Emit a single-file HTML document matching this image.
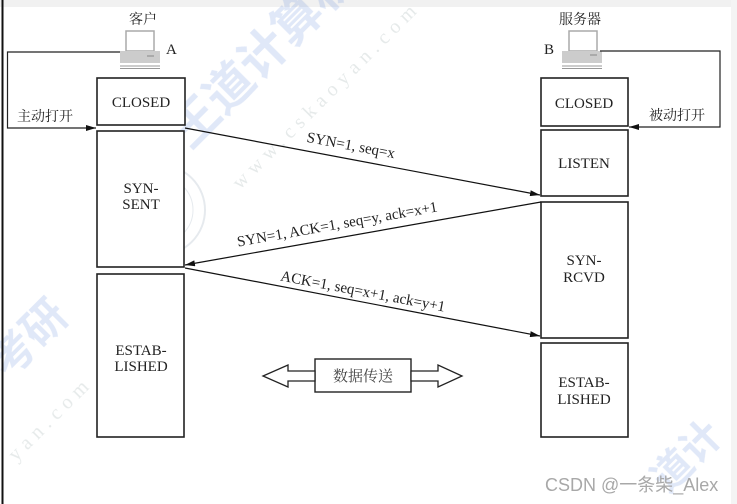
<!DOCTYPE html>
<html><head><meta charset="utf-8"><style>
html,body{margin:0;padding:0;background:#fff;width:737px;height:504px;overflow:hidden;}
svg{display:block;}
text{font-family:"Liberation Serif","Noto Serif CJK SC",serif;fill:#222;}
.cjk{font-family:"Liberation Serif","Noto Serif CJK SC","Noto Sans CJK SC",serif;}
</style></head><body>
<svg width="737" height="504" viewBox="0 0 737 504" xmlns="http://www.w3.org/2000/svg" overflow="hidden">
<defs>
<marker id="ah" markerWidth="10" markerHeight="6" refX="10" refY="3" orient="auto" markerUnits="userSpaceOnUse">
<path d="M0,0 L10,3 L0,6 Z" fill="#111"/>
</marker>
</defs>
<rect x="0" y="0" width="737" height="504" fill="#fff"/>
<rect x="0" y="0" width="737" height="7" fill="#f1f1f1"/>
<rect x="731" y="0" width="6" height="504" fill="#f4f4f4"/>

<!-- watermarks -->
<g opacity="0.16">
<text x="0" y="0" transform="translate(190,150) rotate(-45)" style="font-family:'Noto Sans CJK SC',sans-serif;font-weight:bold;font-size:48px;fill:#3d6fd0">王道计算机</text>
<text x="0" y="0" transform="translate(8,380) rotate(-45)" style="font-family:'Noto Sans CJK SC',sans-serif;font-weight:bold;font-size:44px;fill:#3d6fd0">考研</text>
<text x="0" y="0" transform="translate(668,494) rotate(-45)" style="font-family:'Noto Sans CJK SC',sans-serif;font-weight:bold;font-size:40px;fill:#3d6fd0">道计</text>
</g>
<g opacity="0.25">
<text x="0" y="0" transform="translate(240,190) rotate(-45)" style="font-size:20px;fill:#9aa;letter-spacing:6px">www.cskaoyan.com</text>
<text x="0" y="0" transform="translate(16,462) rotate(-45)" style="font-size:20px;fill:#9aa;letter-spacing:6px">yan.com</text>
<circle cx="160" cy="210" r="45" fill="none" stroke="#9ab" stroke-width="2"/>
<circle cx="160" cy="210" r="33" fill="none" stroke="#9ab" stroke-width="1"/>
</g>
<line x1="2.5" y1="0" x2="2.5" y2="504" stroke="#111" stroke-width="2"/>

<!-- client computer -->
<g>
<rect x="126" y="31" width="28" height="20" fill="#fff" stroke="#aaa" stroke-width="1.5"/>
<rect x="120" y="51" width="40" height="12" fill="#ccc"/>
<line x1="147" y1="56" x2="154" y2="56" stroke="#888" stroke-width="1"/>
<line x1="120" y1="66" x2="160" y2="66" stroke="#999" stroke-width="1"/>
<line x1="120" y1="68.5" x2="160" y2="68.5" stroke="#999" stroke-width="1"/>
</g>
<text x="143" y="24" font-size="14" text-anchor="middle" class="cjk">客户</text>
<text x="166" y="54" font-size="15">A</text>

<!-- server computer -->
<g>
<rect x="569" y="31" width="28" height="20" fill="#fff" stroke="#aaa" stroke-width="1.5"/>
<rect x="562" y="51" width="40" height="12" fill="#ccc"/>
<line x1="590" y1="55" x2="597" y2="55" stroke="#888" stroke-width="1"/>
<line x1="562" y1="66" x2="602" y2="66" stroke="#999" stroke-width="1"/>
<line x1="562" y1="68.5" x2="602" y2="68.5" stroke="#999" stroke-width="1"/>
</g>
<text x="580" y="24" font-size="14" text-anchor="middle" class="cjk">服务器</text>
<text x="544" y="54" font-size="15">B</text>

<!-- loops -->
<polyline points="120,52 7.5,52 7.5,128 96,128" fill="none" stroke="#222" stroke-width="1.2" marker-end="url(#ah)"/>
<text x="17" y="121" font-size="14" class="cjk">主动打开</text>
<polyline points="600,51 720,51 720,127 629,127" fill="none" stroke="#222" stroke-width="1.2" marker-end="url(#ah)"/>
<text x="649" y="120" font-size="14" class="cjk">被动打开</text>

<!-- boxes -->
<g fill="#fff" stroke="#222" stroke-width="1.6">
<rect x="97" y="78" width="88" height="47"/>
<rect x="97" y="131" width="87" height="136"/>
<rect x="97" y="274" width="87" height="163"/>
<rect x="541" y="78" width="87" height="48"/>
<rect x="541" y="130" width="87" height="66"/>
<rect x="541" y="202" width="87" height="136"/>
<rect x="541" y="343" width="87" height="94"/>
</g>
<g font-size="15" text-anchor="middle">
<text x="141" y="107">CLOSED</text>
<text x="141" y="193">SYN-</text>
<text x="141" y="209">SENT</text>
<text x="141" y="355">ESTAB-</text>
<text x="141" y="371">LISHED</text>
<text x="584" y="108">CLOSED</text>
<text x="584" y="168">LISTEN</text>
<text x="584" y="265">SYN-</text>
<text x="584" y="282">RCVD</text>
<text x="584" y="387">ESTAB-</text>
<text x="584" y="404">LISHED</text>
</g>

<!-- handshake arrows -->
<line x1="185" y1="128" x2="540" y2="195" stroke="#111" stroke-width="1.2" marker-end="url(#ah)"/>
<line x1="541" y1="202" x2="185" y2="265" stroke="#111" stroke-width="1.2" marker-end="url(#ah)"/>
<line x1="185" y1="268" x2="540" y2="336" stroke="#111" stroke-width="1.2" marker-end="url(#ah)"/>

<text font-size="15" text-anchor="middle" transform="translate(350,150) rotate(10.7)">SYN=1, seq=x</text>
<text font-size="15" text-anchor="middle" transform="translate(338,229) rotate(-10)">SYN=1, ACK=1, seq=y, ack=x+1</text>
<text font-size="15" text-anchor="middle" transform="translate(362,296) rotate(10.8)">ACK=1, seq=x+1, ack=y+1</text>

<!-- data transfer -->
<rect x="315" y="359" width="96" height="33" fill="#fff" stroke="#222" stroke-width="1.4"/>
<text x="363" y="381" font-size="15" text-anchor="middle" class="cjk" style="fill:#444">数据传送</text>
<polygon points="315,371 288,371 288,365 263,376 288,387 288,381 315,381" fill="#fff" stroke="#222" stroke-width="1.3"/>
<polygon points="411,371 438,371 438,365 462,376 438,387 438,381 411,381" fill="#fff" stroke="#222" stroke-width="1.3"/>

<text x="545" y="491" style="font-family:'Liberation Sans','Noto Sans CJK SC',sans-serif;font-size:18px;fill:#a8a8a8">CSDN @一条柴_Alex</text>
</svg>
</body></html>
